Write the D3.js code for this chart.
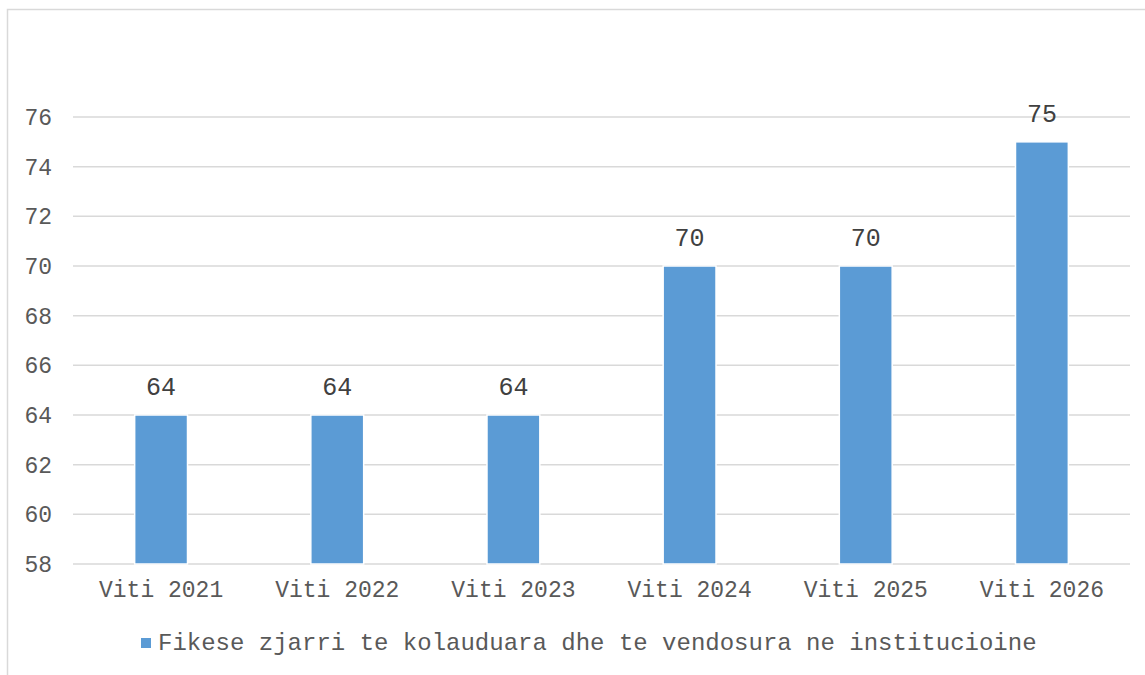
<!DOCTYPE html>
<html>
<head>
<meta charset="utf-8">
<script src="https://cdn.jsdelivr.net/npm/d3@7"></script>
<style>
  body { margin: 0; background: #fff; }
  text { font-family: "Liberation Mono", "Courier New", monospace; }
</style>
</head>
<body>
<div class="vis-barchart"></div>
<script>
const categories = ['Viti 2021', 'Viti 2022', 'Viti 2023', 'Viti 2024', 'Viti 2025', 'Viti 2026'];
const values = [64, 64, 64, 70, 70, 75];
const yTicks = [58, 60, 62, 64, 66, 68, 70, 72, 74, 76];
const seriesName = 'Fikese zjarri te kolauduara dhe te vendosura ne institucioine';

const width = 1145;
const height = 675;
const margin = { top: 117, right: 15, bottom: 111, left: 73 };
const innerW = width - margin.left - margin.right;
const innerH = height - margin.top - margin.bottom;

const svg = d3.select('.vis-barchart')
  .append('svg')
  .attr('width', width)
  .attr('height', height);

// chart border
svg.append('rect')
  .attr('x', 7.5).attr('y', 9.5)
  .attr('width', 1150).attr('height', 700)
  .attr('fill', 'none')
  .attr('stroke', '#d9d9d9')
  .attr('stroke-width', 1.5);

const g = svg.append('g')
  .attr('transform', `translate(${margin.left},${margin.top})`);

const x = d3.scaleBand()
  .domain(categories)
  .range([0, innerW])
  .paddingInner(0.7)
  .paddingOuter(0.35);

const y = d3.scaleLinear()
  .domain([58, 76])
  .range([innerH, 0]);

// gridlines
g.append('g')
  .selectAll('line')
  .data(yTicks)
  .join('line')
  .attr('x1', 0).attr('x2', innerW)
  .attr('y1', (d) => y(d)).attr('y2', (d) => y(d))
  .attr('stroke', '#d9d9d9')
  .attr('stroke-width', 1.5);

// y axis labels
const yAxis = g.append('g')
  .call(d3.axisLeft(y).tickValues(yTicks).tickSize(0).tickPadding(21));
yAxis.select('.domain').remove();
yAxis.selectAll('text')
  .attr('fill', '#595959')
  .style('font-size', '23px');

// x axis labels
const xAxis = g.append('g')
  .attr('transform', `translate(0,${innerH})`)
  .call(d3.axisBottom(x).tickSize(0).tickPadding(17));
xAxis.select('.domain').remove();
xAxis.selectAll('text')
  .attr('fill', '#595959')
  .style('font-size', '23px');

// bars
g.selectAll('.bar')
  .data(values)
  .join('rect')
  .attr('class', 'bar')
  .attr('x', (d, i) => x(categories[i]))
  .attr('y', (d) => y(d))
  .attr('width', x.bandwidth())
  .attr('height', (d) => innerH - y(d))
  .attr('fill', '#5b9bd5')
  .attr('stroke', '#fff')
  .attr('stroke-width', 1.5);

// data labels
g.selectAll('.label')
  .data(values)
  .join('text')
  .attr('class', 'label')
  .attr('x', (d, i) => x(categories[i]) + x.bandwidth() / 2)
  .attr('y', (d) => y(d) - 20)
  .attr('text-anchor', 'middle')
  .attr('fill', '#404040')
  .style('font-size', '25px')
  .text((d) => d);

// legend
const legend = svg.append('g')
  .attr('transform', 'translate(141,638)');
legend.append('rect')
  .attr('width', 10).attr('height', 10)
  .attr('fill', '#5b9bd5');
legend.append('text')
  .attr('x', 17).attr('y', 12)
  .attr('fill', '#595959')
  .style('font-size', '24px')
  .text(seriesName);
</script>
</body>
</html>
